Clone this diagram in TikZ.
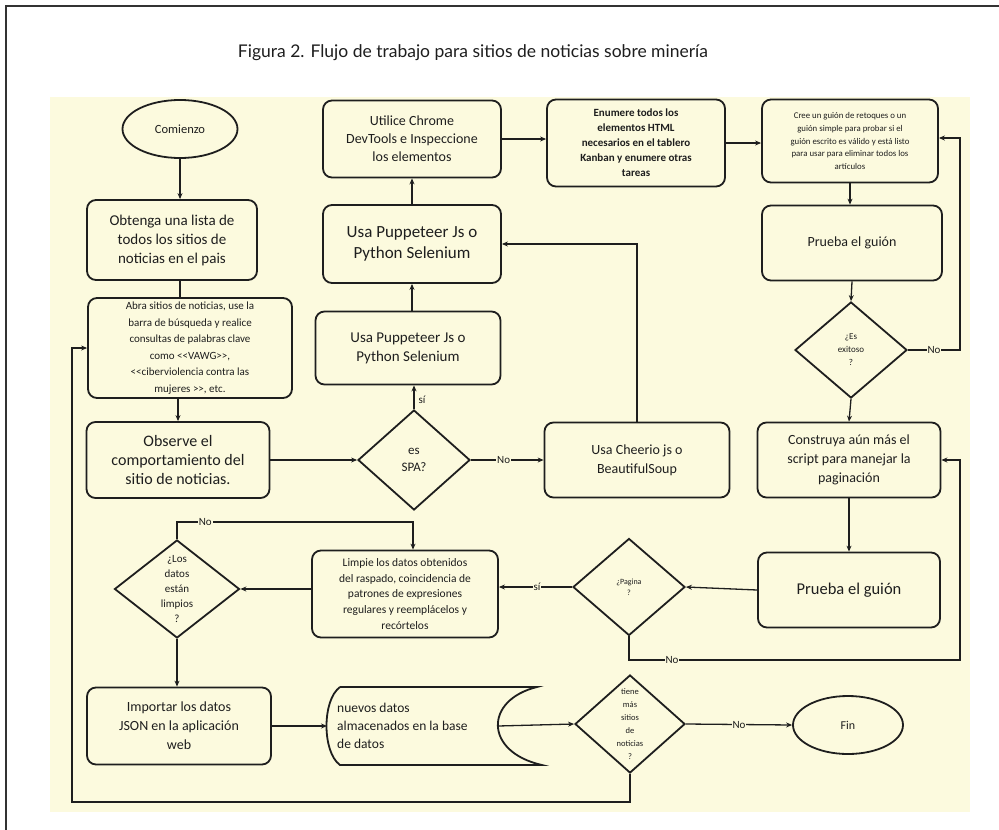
\documentclass[tikz,border=0pt]{standalone}
\usepackage{fontspec}
\setmainfont{Carlito}
\newfontfamily\titlefont{Lato}
\usetikzlibrary{shapes.geometric,arrows.meta}
\definecolor{bgy}{RGB}{252,250,222}
\definecolor{ink}{RGB}{30,30,30}
\begin{document}
\begin{tikzpicture}[x=1pt,y=-1pt,
  box/.style 2 args={draw=ink,line width=1.8pt,rounded corners=9pt,align=center,
    minimum width=#1,minimum height=#2,inner sep=1pt,text=ink},
  dia/.style 2 args={draw=ink,line width=1.8pt,shape=diamond,minimum width=#1,
    minimum height=#2,inner sep=0pt},
  ell/.style 2 args={draw=ink,line width=1.8pt,shape=ellipse,minimum width=#1,
    minimum height=#2,inner sep=0pt,text=ink},
  arr/.style={draw=ink,line width=1.3pt,-{Stealth[length=6pt,width=5pt]}},
  ln/.style={draw=ink,line width=1.3pt},
  lab/.style={fill=bgy,inner sep=1pt,font=\fontsize{11}{12}\selectfont,text=ink},
  dtxt/.style={align=center,text=ink,inner sep=0pt}
]
\useasboundingbox (0,0) rectangle (999,830);
\fill[white] (0,0) rectangle (999,830);
\draw[line width=1.5pt,black!80] (6,830) -- (6,6) -- (999,6);
\node[font=\titlefont\fontsize{17.5}{19}\selectfont,text=ink] (title) at (473,53)
  {Figura 2. Flujo de trabajo para sitios de noticias sobre minería};
\fill[bgy] (50,97) rectangle (970,812);

% left column
\node[ell={115}{58},font=\fontsize{12.5}{14}\selectfont] (com) at (180,129) {Comienzo};
\node[box={170}{80},font=\fontsize{15}{19}\selectfont] (obt) at (172,240)
  {Obtenga una lista de\\todos los sitios de\\noticias en el pais};
\node[box={204}{100},font=\fontsize{11}{16.5}\selectfont] (abra) at (190,348)
  {Abra sitios de noticias, use la\\barra de búsqueda y realice\\consultas de palabras clave\\como <{}<VAWG>{}>,\\<{}<ciberviolencia contra las\\mujeres >{}>, etc.};
\node[box={183}{76},font=\fontsize{16}{19}\selectfont] (obs) at (178,460)
  {Observe el\\comportamiento del\\sitio de noticias.};

% middle column
\node[dia={112}{100},label={[dtxt,font=\fontsize{13}{17}\selectfont]center:es\\SPA?}] (spa) at (414,460) {};
\node[box={185}{73},font=\fontsize{15}{19}\selectfont] (pup1) at (408,348)
  {Usa Puppeteer Js o\\Python Selenium};
\node[box={178}{78},font=\fontsize{17}{21}\selectfont] (pup2) at (412,244)
  {Usa Puppeteer Js o\\Python Selenium};
\node[box={178}{77},font=\fontsize{14}{18}\selectfont] (chrome) at (412,139)
  {Utilice Chrome\\DevTools e Inspeccione\\los elementos};
\node[box={185}{75},font=\fontsize{14}{19}\selectfont] (cheer) at (637,460)
  {Usa Cheerio js o\\BeautifulSoup};
\node[box={178}{87},font=\bfseries\fontsize{11}{15}\selectfont] (enum) at (636,143)
  {Enumere todos los\\elementos HTML\\necesarios en el tablero\\Kanban y enumere otras\\tareas};

% right column
\node[box={176}{83},font=\fontsize{8.8}{12.7}\selectfont] (cree) at (850,141)
  {Cree un guión de retoques o un\\guión simple para probar si el\\guión escrito es válido y está listo\\para usar para eliminar todos los\\artículos};
\node[box={180}{75},font=\fontsize{14}{18}\selectfont] (pr1) at (852,243) {Prueba el guión};
\node[dia={112}{96},label={[dtxt,font=\fontsize{9}{13}\selectfont]center:¿Es\\exitoso\\?}] (exi) at (851,350) {};
\node[box={183}{75},font=\fontsize{14}{19}\selectfont] (cons) at (849,460)
  {Construya aún más el\\script para manejar la\\paginación};
\node[box={182}{75},font=\fontsize{16.5}{20}\selectfont] (pr2) at (849,590) {Prueba el guión};
\node[dia={112}{97},label={[dtxt,font=\fontsize{8}{11}\selectfont]center:¿Pagina\\?}] (pag) at (629,587) {};

% lower rows
\node[box={186}{87},font=\fontsize{11.5}{15.7}\selectfont] (clean) at (405,594)
  {Limpie los datos obtenidos\\del raspado, coincidencia de\\patrones de expresiones\\regulares y reemplácelos y\\recórtelos};
\node[dia={125}{98},label={[dtxt,font=\fontsize{11}{15}\selectfont]center:¿Los\\datos\\están\\limpios\\?}] (limp) at (177,589) {};
\node[box={184}{77},font=\fontsize{14}{19}\selectfont] (imp) at (179,726)
  {Importar los datos\\JSON en la aplicación\\web};
\draw[line width=1.8pt,draw=ink] (340,687) -- (537,687) .. controls (484,700) and (484,752) .. (542,765)
  -- (340,765) .. controls (322,752) and (322,700) .. (340,687);
\coordinate (dbL) at (327,726);
\coordinate (dbR) at (498,726);
\node[anchor=west,align=left,text=ink,inner sep=0pt,font=\fontsize{13.5}{18}\selectfont] (dbt) at (337,726)
  {nuevos datos\\almacenados en la base\\ de datos};
\node[dia={110}{98},label={[dtxt,font=\fontsize{8.5}{13}\selectfont]center:tiene\\más\\sitios\\de\\noticias\\?}] (tiene) at (630,724) {};
\node[ell={110}{58},font=\fontsize{12}{14}\selectfont] (fin) at (848,725) {Fin};

% helper coordinates
\coordinate (lb) at (72,802);
\coordinate (rx1) at (960,138);
\coordinate (rx2) at (960,660);
\coordinate (nc) at (413,522);

% connectors
\draw[arr] (com.south) -- (com.south |- obt.north);
\draw[ln] (com.south |- obt.south) -- (com.south |- abra.north);
\draw[arr] (obs.north |- abra.south) -- (obs.north);
\draw[arr] (obs.east) -- (spa.west);
\draw[arr] (spa.north) -- node[lab,fill=none,anchor=west,pos=0.4,xshift=3pt]{sí} (spa.north |- pup1.south);
\draw[arr] (spa.east) -- node[lab,pos=0.45]{No} (cheer.west |- spa.east);
\draw[arr] (pup2.south |- pup1.north) -- (pup2.south);
\draw[arr] (pup2.north) -- (chrome.south);
\draw[arr] (cheer.north) |- (pup2.east);
\draw[arr] (chrome.east) -- (enum.west |- chrome.east);
\draw[arr] (enum.east) -- (cree.west |- enum.east);
\draw[arr] (cree.south) -- (cree.south |- pr1.north);
\draw[arr] (pr1.south) -- (exi.north);
\draw[arr] (exi.east) -| node[lab,pos=0.25]{No} (rx1) -- (cree.east |- rx1);
\draw[arr] (exi.south) -- (cons.north);
\draw[arr] (cons.south) -- (pr2.north);
\draw[arr] (pr2.west) -- (pag.east);
\draw[arr] (pag.south) |- node[lab,pos=0.565]{No} (rx2) |- (cons.east);
\draw[arr] (pag.west) -- node[lab,pos=0.48]{sí} (clean.east |- pag.west);
\draw[arr] (clean.west |- limp.east) -- (limp.east);
\draw[arr] (limp.north) |- node[lab,pos=0.56]{No} (nc) -- (nc |- clean.north);
\draw[arr] (limp.south) -- (limp.south |- imp.north);
\draw[arr] (imp.east) -- (dbL);
\draw[arr] (dbR) -- (tiene.west);
\draw[arr] (tiene.east) -- node[lab,pos=0.5]{No} (fin.west);
\draw[arr] (tiene.south) |- (lb) |- (abra.west);
\end{tikzpicture}
\end{document}
